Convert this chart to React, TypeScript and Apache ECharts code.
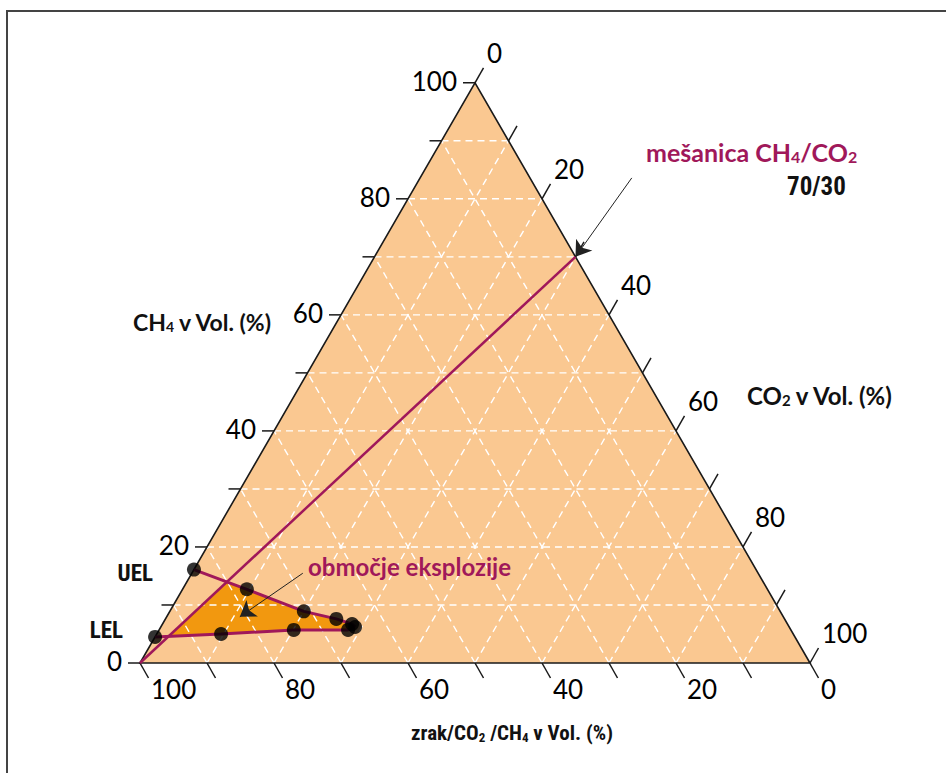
import React, { useEffect, useRef } from "react";
import * as echarts from "echarts";

// ---- data (ternary: air / CO2 / CH4 in vol. %) ----
const tickValues = [0, 10, 20, 30, 40, 50, 60, 70, 80, 90, 100];
const labelValues = [0, 20, 40, 60, 80, 100];
const gridValues = [10, 20, 30, 40, 50, 60, 70, 80, 90];
// upper explosion limit (UEL) curve
const uelCO2 = [0, 9.6, 20.0, 25.5, 28.3, 29.0];
const uelCH4 = [16.1, 12.7, 8.9, 7.6, 6.7, 6.2];
// lower explosion limit (LEL) curve
const lelCO2 = [0, 9.6, 20.1, 28.2, 29.0];
const lelCH4 = [4.5, 5.0, 5.7, 5.7, 6.2];
// CH4/CO2 mixture 70/30
const mixCH4 = 70;
const mixCO2 = 30;

const H = Math.sqrt(3) / 2;
const toXY = (co2: number, ch4: number): [number, number] => [co2 + ch4 / 2, ch4 * H];

const CRIMSON = "#A0185A";
const NUM_FONT = "Lato, 'Open Sans', sans-serif";
const NARROW = "'Liberation Sans Narrow', 'Roboto Condensed', 'Liberation Sans', sans-serif";

// part of a limit curve lying on the CO2-rich side of the mixture line
function clipRight(cs: number[], hs: number[]): [number, number][] {
  const f = (d: number, c: number) => d * mixCH4 - c * mixCO2;
  const out: [number, number][] = [];
  for (let i = 0; i < cs.length; i++) {
    const fi = f(cs[i], hs[i]);
    if (i > 0) {
      const fp = f(cs[i - 1], hs[i - 1]);
      if ((fp < 0 && fi >= 0) || (fp >= 0 && fi < 0)) {
        const t = fp / (fp - fi);
        out.push(toXY(cs[i - 1] + t * (cs[i] - cs[i - 1]), hs[i - 1] + t * (hs[i] - hs[i - 1])));
      }
    }
    if (fi >= 0) out.push(toXY(cs[i], hs[i]));
  }
  return out;
}

export default function App() {
  const ref = useRef<HTMLDivElement>(null);
  useEffect(() => {
    if (!ref.current) return;
    const chart = echarts.init(ref.current, null, { renderer: "svg" });

    // grid segments
    const segs: number[][] = [];
    gridValues.forEach((k) => {
      segs.push([...toXY(0, k), ...toXY(100 - k, k)]); // CH4 const
      segs.push([...toXY(k, 0), ...toXY(k, 100 - k)]); // CO2 const
      segs.push([...toXY(100 - k, 0), ...toXY(0, 100 - k)]); // air const
    });

    // ticks [X, Y, dx, dy]
    const ticks: number[][] = [];
    tickValues.forEach((v) => {
      ticks.push([...toXY(0, v), -12, 0]); // CH4 on left edge
      ticks.push([...toXY(v, 100 - v), 8.5, -15]); // CO2 on right edge
      ticks.push([...toXY(100 - v, 0), 8.5, 15]); // air on base
    });
    // labels [X, Y, dx, dy, value, align(0 right,1 left)]
    const labels: number[][] = [];
    labelValues.forEach((v) => {
      labels.push([...toXY(0, v), -18, -2, v, 0]);
      labels.push([...toXY(v, 100 - v), 12, -30, v, 1]);
      labels.push([...toXY(100 - v, 0), 11, 26, v, 1]);
    });

    const upperClip = clipRight(uelCO2, uelCH4);
    const lowerClip = clipRight(lelCO2, lelCH4);
    const zonePoly = [...upperClip, ...lowerClip.slice().reverse()];

    const uelLine = uelCO2.map((d, i) => toXY(d, uelCH4[i]));
    const lelLine = lelCO2.map((d, i) => toXY(d, lelCH4[i]));
    const dots = [...uelLine, ...lelLine.slice(0, lelLine.length - 1)];

    const tri = [toXY(0, 0), toXY(100, 0), toXY(0, 100)];
    const mixPoint = toXY(mixCO2, mixCH4);

    const polySeries = (pts: [number, number][], style: any, z: number) => ({
      type: "custom",
      z,
      silent: true,
      data: [[0, 0]],
      renderItem: (_p: any, api: any) => ({
        type: "polygon",
        shape: { points: pts.map((p) => api.coord(p)) },
        style,
      }),
    });

    const subRich = (size: number, color: string, family: string) => ({
      b: { fontFamily: family, fontWeight: "bold", fontSize: size, fill: color, color, lineHeight: size + 6, verticalAlign: "bottom" },
      s: { fontFamily: family, fontWeight: "bold", fontSize: Math.round(size * 0.62), fill: color, color, lineHeight: Math.round(size * 0.62) + 2, verticalAlign: "bottom" },
    });

    chart.setOption({
      animation: false,
      backgroundColor: "#ffffff",
      grid: { left: 140, width: 670, top: 663 - 670 * H, height: 670 * H },
      xAxis: { type: "value", min: 0, max: 100, show: false },
      yAxis: { type: "value", min: 0, max: 100 * H, show: false },
      graphic: [
        { type: "line", z: 100, shape: { x1: 6, y1: 11, x2: 946, y2: 11 }, style: { stroke: "#444", lineWidth: 2 } },
        { type: "line", z: 100, shape: { x1: 7, y1: 10, x2: 7, y2: 773 }, style: { stroke: "#444", lineWidth: 2 } },
        {
          type: "text", z: 100, x: 133, y: 319,
          style: { text: "{b|CH}{s|4}{b| v Vol. (%)}", rich: subRich(23, "#111", "Lato"), align: "left", verticalAlign: "middle" },
        },
        {
          type: "text", z: 100, x: 747, y: 392,
          style: { text: "{b|CO}{s|2}{b| v Vol. (%)}", rich: subRich(24, "#111", "Lato"), align: "left", verticalAlign: "middle" },
        },
        {
          type: "text", z: 100, x: 512, y: 730,
          style: { text: "{b|zrak/CO}{s|2}{b| /CH}{s|4}{b| v Vol. (%)}", rich: subRich(21, "#111", NARROW), align: "center", verticalAlign: "middle" },
        },
        {
          type: "text", z: 100, x: 646, y: 149,
          style: { text: "{b|mešanica CH}{s|4}{b|/CO}{s|2}", rich: subRich(25, CRIMSON, "Lato"), align: "left", verticalAlign: "middle" },
        },
        {
          type: "text", z: 100, x: 787, y: 186,
          style: { text: "70/30", fontFamily: NARROW, fontWeight: "bold", fontSize: 25, fill: "#111", align: "left", verticalAlign: "middle" },
        },
        {
          type: "text", z: 100, x: 308, y: 566,
          style: { text: "območje eksplozije", fontFamily: "Lato", fontWeight: "bold", fontSize: 24, fill: CRIMSON, align: "left", verticalAlign: "middle" },
        },
        {
          type: "text", z: 100, x: 153, y: 573,
          style: { text: "UEL", fontFamily: NARROW, fontWeight: "bold", fontSize: 23, fill: "#111", align: "right", verticalAlign: "middle" },
        },
        {
          type: "text", z: 100, x: 123, y: 630,
          style: { text: "LEL", fontFamily: NARROW, fontWeight: "bold", fontSize: 23, fill: "#111", align: "right", verticalAlign: "middle" },
        },
      ],
      series: [
        polySeries(tri, { fill: "#FAC891", stroke: "none" }, 1),
        polySeries(zonePoly, { fill: "#F2980F", stroke: "none" }, 2),
        {
          type: "custom",
          z: 3,
          silent: true,
          data: segs,
          renderItem: (_p: any, api: any) => {
            const a = api.coord([api.value(0), api.value(1)]);
            const b = api.coord([api.value(2), api.value(3)]);
            return {
              type: "line",
              shape: { x1: a[0], y1: a[1], x2: b[0], y2: b[1] },
              style: { stroke: "#ffffff", lineWidth: 1.4, lineDash: [7, 5] },
            };
          },
        },
        polySeries(tri, { fill: "none", stroke: "#1a1a1a", lineWidth: 1.6 }, 4),
        {
          type: "custom",
          z: 4,
          silent: true,
          data: ticks,
          renderItem: (_p: any, api: any) => {
            const a = api.coord([api.value(0), api.value(1)]);
            return {
              type: "line",
              shape: { x1: a[0], y1: a[1], x2: a[0] + api.value(2), y2: a[1] + api.value(3) },
              style: { stroke: "#1a1a1a", lineWidth: 1.5 },
            };
          },
        },
        {
          type: "custom",
          z: 4,
          silent: true,
          data: labels,
          renderItem: (_p: any, api: any) => {
            const a = api.coord([api.value(0), api.value(1)]);
            const al = api.value(5) === 0 ? "right" : "left";
            return {
              type: "text",
              x: a[0] + api.value(2),
              y: a[1] + api.value(3),
              style: {
                text: String(api.value(4)),
                fontFamily: NUM_FONT,
                fontSize: 26,
                fill: "#000",
                align: al,
                textAlign: al,
                verticalAlign: "middle",
                textVerticalAlign: "middle",
              },
            };
          },
        },
        {
          type: "line",
          z: 5,
          silent: true,
          data: [toXY(0, 0), mixPoint],
          symbol: "none",
          lineStyle: { color: CRIMSON, width: 2.5 },
        },
        {
          type: "line",
          z: 5,
          silent: true,
          data: uelLine,
          symbol: "none",
          lineStyle: { color: CRIMSON, width: 3 },
        },
        {
          type: "line",
          z: 5,
          silent: true,
          data: lelLine,
          symbol: "none",
          lineStyle: { color: CRIMSON, width: 3 },
        },
        {
          type: "scatter",
          z: 6,
          silent: true,
          data: dots,
          symbol: "circle",
          symbolSize: 14,
          itemStyle: { color: "#000" },
        },
        {
          type: "lines",
          coordinateSystem: "cartesian2d",
          z: 7,
          silent: true,
          symbol: ["none", "arrow"],
          symbolSize: [0, 15],
          lineStyle: { color: "#222", width: 1, opacity: 1 },
          data: [
            { coords: [[73.4, 72.4], mixPoint] },
            { coords: [[24.3, 13.4], [14.9, 6.9]] },
          ],
        },
      ],
    });
    return () => chart.dispose();
  }, []);
  return <div ref={ref} style={{ position: "fixed", left: 0, top: 0, width: 946, height: 773 }} />;
}
